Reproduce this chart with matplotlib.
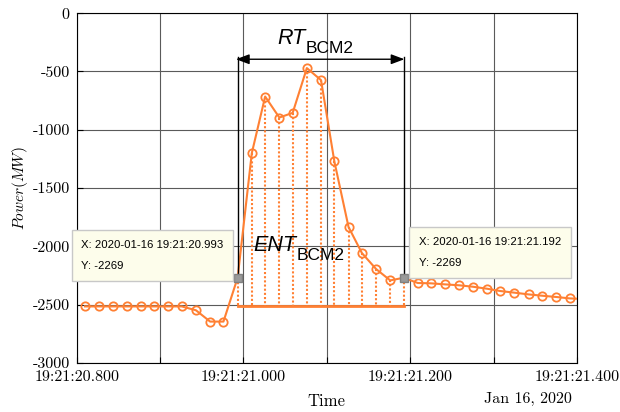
import matplotlib
matplotlib.use("Agg")
import matplotlib.pyplot as plt
from matplotlib import font_manager

# sample times (seconds after 19:21:00) and power values
pre_t = [20.810, 20.827, 20.843, 20.860, 20.877, 20.893, 20.910, 20.926,
         20.943, 20.960, 20.976]
pre_p = [-2515, -2515, -2515, -2515, -2515, -2515, -2515, -2515,
         -2548, -2645, -2645]

event_t = [20.993, 21.010, 21.026, 21.043, 21.059, 21.076, 21.093, 21.109,
           21.126, 21.142, 21.159, 21.176, 21.192]
event_p = [-2269, -1200, -715, -895, -855, -471, -574, -1272,
           -1834, -2057, -2194, -2292, -2269]

post_t = [21.209, 21.225, 21.242, 21.259, 21.275, 21.292, 21.308, 21.325,
          21.342, 21.358, 21.375, 21.391, 21.408]
post_p = [-2314, -2317, -2326, -2334, -2346, -2363, -2383, -2397,
          -2412, -2423, -2434, -2446, -2452]

base_level = -2515
tip_t = [20.993, 21.192]
tip_p = [-2269, -2269]
tip_labels = ["X: 2020-01-16 19:21:20.993\nY: -2269",
              "X: 2020-01-16 19:21:21.192\nY: -2269"]

x_ticks = [20.8, 20.9, 21.0, 21.1, 21.2, 21.3, 21.4]
x_labels = ["19:21:20.800", "", "19:21:21.000", "", "19:21:21.200", "", "19:21:21.400"]
y_ticks = [-3000, -2500, -2000, -1500, -1000, -500, 0]
y_labels = ["-3000", "-2500", "-2000", "-1500", "-1000", "-500", "0"]

orange = "#ff8033"

plt.rcParams["font.family"] = "cmr10"
plt.rcParams["mathtext.fontset"] = "cm"
plt.rcParams["axes.unicode_minus"] = False

names = {f.name for f in font_manager.fontManager.ttflist}
sans = "Liberation Sans"
if "Liberation Sans Narrow" in names:
    tip_font, tip_size = "Liberation Sans Narrow", 9.5
else:
    tip_font, tip_size = "Liberation Sans", 8.2

fig = plt.figure(figsize=(6.2, 4.12), dpi=100)
ax = fig.add_axes([0.1237, 0.119, 0.807, 0.849])

t_all = pre_t + event_t + post_t
p_all = pre_p + event_p + post_p
tip_idx = [len(pre_t), len(pre_t) + len(event_t) - 1]
marks = [i for i in range(len(t_all)) if i not in tip_idx]

# dotted drop lines and base line of the energy area
for t, p in zip(event_t, event_p):
    ax.plot([t, t], [p, base_level], color=orange, lw=1.5, ls=(0, (1, 1)), zorder=2)
ax.plot([event_t[0], event_t[-1]], [base_level, base_level], color=orange, lw=2, zorder=2)

ax.plot(t_all, p_all, color=orange, lw=1.5, marker="o", markersize=6,
        markerfacecolor="none", markeredgewidth=1.3, markevery=marks, zorder=3)

# response time bracket
for t in tip_t:
    ax.plot([t, t], [-380, -2269], color="black", lw=1, zorder=4)
ax.annotate("", xy=(tip_t[0] - 0.002, -395), xytext=(tip_t[1] + 0.001, -395),
            arrowprops=dict(arrowstyle="<|-|>,head_length=0.8,head_width=0.3",
                            color="black", lw=1, shrinkA=0, shrinkB=0,
                            mutation_scale=10), zorder=4)

ax.plot(tip_t, tip_p, ls="none", marker="s", markersize=6, color="#9a9a9a",
        markeredgecolor="#808080", zorder=5)


def sub_label(x, y, main, sub):
    ax.text(x, y, main, ha="right", va="baseline", fontsize=15.5,
            style="italic", family=sans, zorder=6)
    ax.annotate(sub, xy=(x, y), xytext=(0, -6.5), textcoords="offset points",
                ha="left", va="baseline", fontsize=12.5, family=sans, zorder=6)


sub_label(21.074, -262, "RT", "BCM2")
sub_label(21.064, -2043, "ENT", "BCM2")

pad_pt = 7
box = dict(boxstyle=f"square,pad={pad_pt / tip_size}", facecolor="#fdfdeb",
           edgecolor="#c8c8c8", lw=1)
ax.annotate(tip_labels[0], xy=(tip_t[0], tip_p[0]), xytext=(-3 - pad_pt, pad_pt - 2),
            textcoords="offset points", ha="right", va="bottom", multialignment="left",
            fontsize=tip_size, family=tip_font, linespacing=2.4, bbox=box, zorder=7)
ax.annotate(tip_labels[1], xy=(tip_t[1], tip_p[1]), xytext=(4 + pad_pt, pad_pt),
            textcoords="offset points", ha="left", va="bottom", multialignment="left",
            fontsize=tip_size, family=tip_font, linespacing=2.4, bbox=box, zorder=7)

ax.set_xlim(20.8, 21.4)
ax.set_ylim(-3000, 0)
ax.set_xticks(x_ticks)
ax.set_xticklabels(x_labels)
ax.set_yticks(y_ticks)
ax.set_yticklabels(y_labels)
ax.tick_params(direction="in", length=4, labelsize=11.5, pad=5, width=0.8)
ax.grid(True, color="#5a5a5a", lw=0.8)
ax.set_axisbelow(True)
for s in ax.spines.values():
    s.set_linewidth(0.8)

ax.set_xlabel("Time", fontsize=12, labelpad=7)
ax.set_ylabel("$Power(MW)$", fontsize=11, labelpad=2)
ax.annotate("Jan 16, 2020", xy=(1, 0), xycoords="axes fraction", xytext=(-4, -29),
            textcoords="offset points", ha="right", va="baseline", fontsize=11.5)

fig.savefig("out.png", dpi=100)
